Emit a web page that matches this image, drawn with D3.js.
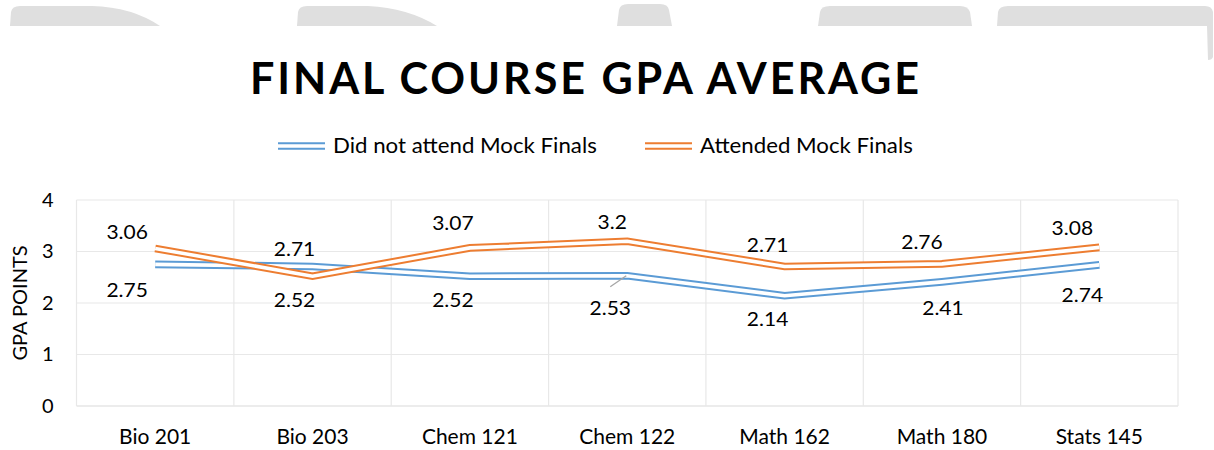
<!DOCTYPE html>
<html>
<head>
<meta charset="utf-8">
<script src="https://cdn.jsdelivr.net/npm/d3@7"></script>
<style>
    body { margin: 0; background: #fff; }
    svg { display: block; }
    text { font-family: Lato, "Open Sans", sans-serif; fill: #000; }
</style>
</head>
<body>
<svg id="chart"></svg>
<script>
// chart values
const courses = ["Bio 201", "Bio 203", "Chem 121", "Chem 122", "Math 162", "Math 180", "Stats 145"];
const notAttended = [2.75, 2.71, 2.52, 2.53, 2.14, 2.41, 2.74];
const attended = [3.06, 2.52, 3.07, 3.2, 2.71, 2.76, 3.08];
const yTicks = [0, 1, 2, 3, 4];
const seriesNames = ["Did not attend Mock Finals", "Attended Mock Finals"];

let GpaChart = function (svg) {
    this.svg = svg
    this.width = 1214
    this.height = 450
    this.layout = {}

    this.setLayout()
    this.setScales()
    this.draw()
}

GpaChart.prototype.setLayout = function () {
    this.layout = {
        plotLeft: 76.5,
        plotRight: 1178,
        plotTop: 200,
        plotBottom: 406,
        gridStroke: "#e8e8e8",
        axisStroke: "#d9d9d9",
        blue: "#5b9bd5",
        orange: "#ed7d31",
        lineOuter: 7.6,
        lineInner: 3.6,
        watermarkFill: "#dfdfdf",
        // hand-placed data labels, offsets from the point
        nudgeBlue: [[-28, 25], [-18, -18], [-17, 24], [-17, 32], [-17, 23], [1, 26], [-17, 30]],
        nudgeOrange: [[-28, -17], [-18, 24], [-17, -25], [-15, -19], [-17, -22], [-20, -22], [-27, -20]],
        leaderIndex: 3,
    }
}

GpaChart.prototype.setScales = function () {
    const l = this.layout
    this.x = d3.scaleBand().domain(courses).range([l.plotLeft, l.plotRight])
    this.y = d3.scaleLinear().domain([0, 4]).range([l.plotBottom, l.plotTop])
    this.cx = (c) => this.x(c) + this.x.bandwidth() / 2
}

GpaChart.prototype.draw = function () {
    this.svg.attr("width", this.width).attr("height", this.height)
    this.svg.append("rect").attr("width", this.width).attr("height", this.height).attr("fill", "#fff")

    this.addWatermark()
    this.addTitle()
    this.addLegend()
    this.addGrid()
    this.addAxes()
    this.addSeries(notAttended, this.layout.blue)
    this.addSeries(attended, this.layout.orange)
    this.addLabels(notAttended, this.layout.nudgeBlue, true)
    this.addLabels(attended, this.layout.nudgeOrange, false)
}

GpaChart.prototype.addWatermark = function () {
    // cut-off grey shapes along the top edge
    const shapes = [
        "M10,26 L11,12 Q12,6 20,6 L92,6 Q132,7 160,26 Z",
        "M297,26 L298,12 Q299,6 307,6 L368,6 Q408,8 437,26 Z",
        "M617,26 L619,10 Q620,4 628,4 L660,4 Q668,4 669,10 L672,26 Z",
        "M818,26 L820,12 Q821,6 830,6 L960,6 Q968,6 970,12 L972,26 Z",
        "M997,26 L998,12 Q999,6 1008,6 L1205,6 Q1212,6 1213,12 L1213,57 Q1212,60 1208,60 L1207,26 Z",
    ]
    this.svg.append("g").attr("id", "watermark")
        .selectAll("path").data(shapes).join("path")
        .attr("d", d => d)
        .attr("fill", this.layout.watermarkFill)
}

GpaChart.prototype.addTitle = function () {
    this.svg.append("text")
        .attr("x", 250)
        .attr("y", 94)
        .attr("font-size", 44)
        .attr("font-weight", 700)
        .attr("textLength", 672)
        .attr("lengthAdjust", "spacingAndGlyphs")
        .style("letter-spacing", "3px")
        .text("FINAL COURSE GPA AVERAGE")
}

GpaChart.prototype.doubleLine = function (g, d, color) {
    g.append("path").attr("d", d).attr("fill", "none")
        .attr("stroke", color).attr("stroke-width", this.layout.lineOuter)
        .attr("stroke-linejoin", "miter")
    g.append("path").attr("d", d).attr("fill", "none")
        .attr("stroke", "#fff").attr("stroke-width", this.layout.lineInner)
        .attr("stroke-linejoin", "miter")
}

GpaChart.prototype.addLegend = function () {
    const g = this.svg.append("g").attr("id", "legend")
    const items = [
        { name: seriesNames[0], color: this.layout.blue, x: 278 },
        { name: seriesNames[1], color: this.layout.orange, x: 645 },
    ]
    for (let it of items) {
        this.doubleLine(g, `M${it.x},146 L${it.x + 47},146`, it.color)
        g.append("text")
            .attr("transform", `translate(${it.x + 55},146) scale(1.06,1)`)
            .attr("dy", "0.35em")
            .attr("font-size", 21)
            .text(it.name)
    }
}

GpaChart.prototype.addGrid = function () {
    const l = this.layout
    const g = this.svg.append("g").attr("id", "grid")
    g.selectAll(".hgrid").data(yTicks).join("line")
        .attr("x1", l.plotLeft).attr("x2", l.plotRight)
        .attr("y1", d => this.y(d)).attr("y2", d => this.y(d))
        .attr("stroke", d => d === 0 ? l.axisStroke : l.gridStroke)
        .attr("stroke-width", 1.2)
    const edges = courses.map(c => this.x(c)).concat([l.plotRight])
    g.selectAll(".vgrid").data(edges).join("line")
        .attr("x1", d => d).attr("x2", d => d)
        .attr("y1", l.plotTop).attr("y2", l.plotBottom)
        .attr("stroke", l.gridStroke)
        .attr("stroke-width", 1.2)
}

GpaChart.prototype.addAxes = function () {
    const l = this.layout
    const yAxis = this.svg.append("g")
        .attr("transform", `translate(${l.plotLeft},0)`)
        .call(d3.axisLeft(this.y).tickValues(yTicks).tickSize(0).tickPadding(23).tickFormat(d3.format("d")))
    yAxis.select(".domain").remove()
    yAxis.selectAll("text").attr("font-size", 20).attr("font-family", null).attr("fill", "#000")

    const xAxis = this.svg.append("g")
        .attr("transform", `translate(0,${l.plotBottom})`)
        .call(d3.axisBottom(this.x).tickSize(0).tickPadding(23))
    xAxis.select(".domain").remove()
    xAxis.selectAll("text").attr("font-size", 21).attr("font-family", null).attr("fill", "#000")

    this.svg.append("text")
        .attr("transform", `translate(20,${(l.plotTop + l.plotBottom) / 2}) rotate(-90)`)
        .attr("text-anchor", "middle")
        .attr("dy", "0.35em")
        .attr("font-size", 20)
        .text("GPA POINTS")
}

GpaChart.prototype.addSeries = function (values, color) {
    const line = d3.line()
        .x((d, i) => this.cx(courses[i]))
        .y(d => this.y(d))
    const g = this.svg.append("g")
    this.doubleLine(g, line(values), color)
}

GpaChart.prototype.addLabels = function (values, nudge, withLeader) {
    const _this = this
    const g = this.svg.append("g")
    values.forEach(function (v, i) {
        const px = _this.cx(courses[i])
        const py = _this.y(v)
        const [dx, dy] = nudge[i]
        if (withLeader && i === _this.layout.leaderIndex) {
            g.append("line")
                .attr("x1", px - 17).attr("y1", py + 11)
                .attr("x2", px - 1).attr("y2", py)
                .attr("stroke", "#a6a6a6").attr("stroke-width", 1.3)
        }
        g.append("text")
            .attr("transform", `translate(${px + dx},${py + dy}) scale(1.05,1)`)
            .attr("text-anchor", "middle")
            .attr("dy", "0.36em")
            .attr("font-size", 20)
            .text(String(v))
    })
}

new GpaChart(d3.select("#chart"))
</script>
</body>
</html>
